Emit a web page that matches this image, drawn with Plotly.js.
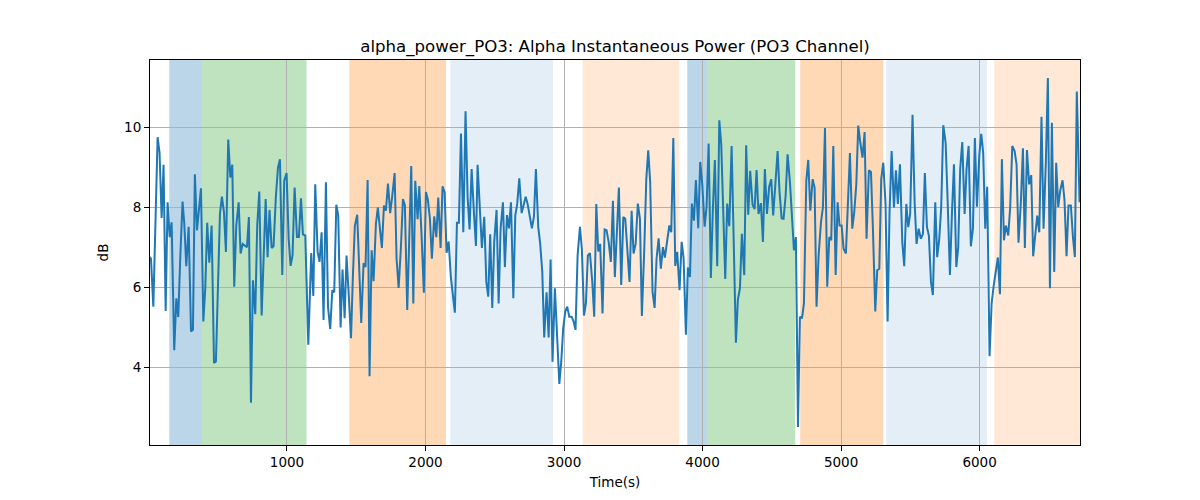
<!DOCTYPE html>
<html>
<head>
<meta charset="utf-8">
<script src="https://cdn.plot.ly/plotly-3.0.1.min.js"></script>
<style>
  body { margin: 0; background: #fff; }
</style>
</head>
<body>
<div id="myDiv"></div>
<script>
// time (s) and alpha power (dB)
let time_s = [
  11, 18, 35, 66, 80, 95, 109, 124, 138, 153, 167, 186, 201, 215, 230, 246, 258, 273, 290, 307,
  321, 335, 350, 364, 379, 396, 410, 424, 439, 456, 473, 487, 501, 516, 530, 545, 559, 576, 591, 605,
  619, 634, 651, 665, 680, 696, 711, 725, 740, 754, 771, 785, 800, 817, 831, 846, 860, 874, 889, 903,
  920, 935, 949, 966, 980, 997, 1012, 1026, 1040, 1055, 1072, 1086, 1101, 1115, 1132, 1154,
  1175, 1190, 1204, 1221, 1235, 1250, 1264, 1281, 1296, 1312, 1327, 1341, 1356, 1370, 1387, 1401, 1416, 1430, 1447, 1462,
  1476, 1490, 1507, 1522, 1536, 1553, 1567, 1582, 1596, 1611, 1625, 1642, 1656, 1671, 1685, 1700, 1714, 1729, 1745, 1760,
  1777, 1791, 1806, 1822, 1837, 1851, 1868, 1883, 1897, 1912, 1926, 1943, 1955, 1972, 1988, 2003, 2017, 2032, 2046, 2063,
  2078, 2092, 2109, 2123, 2138, 2152, 2167, 2183, 2198, 2212, 2227, 2241, 2256,
  2273, 2289, 2304, 2318, 2333, 2350, 2364, 2376, 2393, 2407, 2424, 2439, 2453, 2467, 2482, 2496, 2513, 2528, 2542, 2559,
  2573, 2588, 2602, 2617, 2634, 2648, 2662, 2677, 2694, 2708, 2723, 2737, 2754, 2768, 2783, 2797, 2814, 2828, 2843, 2857,
  2874, 2889, 2903, 2917, 2934, 2949, 2966, 2980, 2994, 3009, 3023, 3038, 3055, 3069, 3083, 3098, 3115, 3129, 3144, 3158,
  3172, 3187, 3204, 3218, 3233, 3247, 3261, 3278, 3293, 3307, 3322, 3338, 3353, 3367, 3382, 3396,
  3413, 3428, 3442, 3459, 3473, 3488, 3502, 3517, 3533, 3548, 3562, 3579, 3594, 3608, 3622, 3639, 3654, 3668, 3683, 3699,
  3714, 3728, 3743, 3760, 3774, 3789, 3803, 3817, 3834, 3849, 3863, 3880, 3894, 3909, 3923, 3938, 3952, 3969, 3983, 3998,
  4015, 4029, 4044, 4060, 4075, 4089, 4106, 4121, 4135, 4149, 4164, 4178, 4193, 4210, 4224, 4241, 4255, 4270, 4284, 4301,
  4315, 4330, 4344, 4361, 4376, 4390, 4404, 4421, 4436, 4450, 4465, 4481, 4496, 4510,
  4542, 4556, 4571, 4585, 4600, 4614, 4631, 4645, 4660, 4674, 4689, 4703, 4718, 4732, 4749, 4763, 4778, 4795, 4809, 4823,
  4838, 4855, 4869, 4884, 4900, 4915, 4929, 4944, 4961, 4975, 4989, 5004, 5018, 5035, 5050, 5064, 5081, 5095, 5110, 5124,
  5139, 5155, 5170, 5184, 5201, 5216, 5230, 5247, 5261, 5276, 5290, 5305, 5321, 5336, 5350, 5365, 5382, 5396, 5410, 5425,
  5442, 5456, 5471, 5485, 5499, 5516, 5531, 5545, 5560, 5576, 5591, 5605, 5620,
  5634, 5649, 5663, 5680, 5694, 5709, 5723, 5738, 5755, 5769, 5786, 5800, 5815, 5832, 5846, 5860, 5875, 5892, 5906, 5921,
  5937, 5952, 5966, 5981, 5998, 6012, 6026, 6041, 6055, 6072, 6087, 6101, 6118, 6132, 6147, 6161, 6176, 6190, 6207, 6221,
  6236, 6253, 6267, 6281, 6298, 6313, 6327, 6342, 6358, 6373, 6387, 6402, 6416, 6431, 6447, 6462, 6479, 6493, 6508, 6522,
  6539, 6553, 6568, 6582, 6599, 6613, 6628, 6642, 6659, 6674, 6688, 6702, 6722
];
let alpha_db = [
  6.75, 6.71, 5.51, 9.75, 9.36, 7.73, 9.06, 5.40, 8.12, 7.25, 7.62, 4.42, 5.72, 5.25, 6.79, 8.14, 7.62, 6.52, 7.51, 4.89,
  4.93, 8.82, 7.42, 8.04, 8.47, 5.14, 5.97, 7.61, 6.61, 7.54, 4.10, 4.14, 5.97, 7.83, 8.26, 7.87, 6.88, 9.69, 8.74, 9.06,
  6.01, 7.54, 8.12, 6.84, 7.08, 7.03, 7.00, 7.75, 3.11, 6.17, 5.32, 7.54, 8.39, 5.29, 6.96, 8.20, 6.75, 7.93, 6.98, 7.02,
  8.28, 8.99, 9.20, 6.30, 8.66, 8.85, 7.21, 6.53, 6.79, 8.49, 7.25, 7.25, 8.22, 7.32, 7.29, 4.56,
  6.85, 5.78, 8.57, 6.88, 6.63, 7.37, 5.18, 8.62, 5.51, 4.95, 5.92, 5.87, 8.06, 7.79, 4.99, 6.44, 5.22, 6.79, 5.72, 4.72,
  6.30, 7.54, 7.81, 6.38, 5.10, 6.60, 6.50, 8.68, 3.77, 6.92, 6.15, 7.58, 7.99, 7.46, 6.98, 8.04, 7.91, 8.59, 7.85, 8.28,
  8.85, 6.71, 5.98, 6.96, 8.20, 8.05, 5.43, 7.25, 9.03, 5.59, 8.66, 7.70, 8.53, 7.25, 5.86, 8.38, 8.19, 7.70, 6.71, 7.77,
  7.25, 8.24, 6.98, 8.52, 8.37, 6.86, 7.14, 6.25, 5.80, 5.36, 7.61, 7.61, 9.84,
  7.37, 10.40, 8.24, 7.44, 8.95, 7.83, 7.03, 9.06, 7.79, 6.98, 7.76, 6.13, 5.76, 7.32, 5.48, 7.13, 7.93, 5.59, 7.46, 8.12,
  6.50, 7.80, 7.47, 8.12, 5.72, 7.79, 8.08, 8.72, 7.85, 8.02, 8.26, 8.08, 7.73, 7.47, 7.77, 8.95, 7.50, 7.08, 6.38, 4.74,
  5.87, 4.74, 6.69, 4.13, 5.97, 4.72, 3.58, 4.14, 4.97, 5.39, 5.51, 5.26, 5.26, 5.14, 4.93, 6.79, 7.51, 6.94, 5.29, 5.59,
  6.79, 6.85, 6.13, 5.26, 8.08, 6.89, 7.08, 5.34, 7.44, 7.42, 7.13, 6.63, 8.16, 6.25, 7.29, 8.49,
  6.05, 7.75, 7.71, 6.88, 6.13, 7.91, 6.84, 7.08, 8.09, 7.71, 5.28, 6.92, 8.70, 9.42, 8.62, 5.88, 5.48, 6.71, 7.22, 6.46,
  7.00, 6.74, 7.08, 7.54, 7.37, 9.73, 6.53, 6.88, 5.92, 7.13, 6.73, 4.81, 6.49, 6.25, 8.09, 7.66, 8.68, 7.47, 9.13, 8.57,
  7.51, 8.00, 9.59, 6.23, 8.00, 9.18, 6.52, 10.17, 9.57, 7.95, 6.20, 8.09, 7.52, 9.53, 7.13, 4.61, 5.68, 5.97, 7.33, 6.30,
  9.55, 7.81, 8.91, 8.06, 7.95, 8.93, 7.83, 8.10, 7.13, 8.95, 7.83, 8.51, 8.70, 7.79,
  9.40, 8.37, 7.72, 7.71, 8.29, 9.32, 8.62, 7.87, 6.92, 7.25, 2.50, 5.26, 5.22, 5.59, 8.66, 9.18, 7.91, 8.70, 8.49, 5.51,
  6.79, 7.62, 7.99, 9.98, 6.01, 7.25, 7.17, 9.53, 6.30, 8.12, 7.54, 7.54, 6.96, 6.84, 8.04, 9.35, 7.46, 7.87, 8.57, 10.04,
  9.61, 9.24, 9.88, 7.21, 8.92, 8.88, 7.46, 5.39, 6.42, 6.46, 8.70, 9.11, 8.08, 5.14, 7.87, 9.40, 7.99, 8.92, 8.08, 9.07,
  7.13, 6.52, 8.08, 7.50, 7.83, 10.31, 8.12, 7.08, 7.46, 7.21, 7.33, 8.85, 7.50,
  7.29, 6.13, 5.80, 8.12, 6.75, 7.21, 8.00, 10.05, 9.61, 8.20, 6.30, 7.79, 9.07, 6.50, 7.00, 8.95, 9.63, 7.83, 8.95, 9.53,
  7.02, 7.46, 9.73, 8.01, 9.30, 9.83, 9.36, 7.46, 8.51, 4.27, 5.59, 6.01, 6.38, 6.74, 5.82, 9.20, 7.17, 7.54, 7.29, 8.00,
  9.53, 9.40, 9.07, 7.11, 8.12, 9.47, 6.98, 9.43, 8.57, 8.80, 6.77, 7.29, 7.79, 7.37, 10.26, 7.46, 9.18, 11.23, 5.97, 10.11,
  6.38, 9.11, 8.00, 8.41, 8.67, 8.18, 6.77, 8.04, 8.04, 7.25, 6.75, 10.89, 8.12
];

// shaded intervals
let span_start = [150, 386, 1450, 2179, 3134, 3890, 4032, 4705, 5326, 6106];
let span_end   = [386, 1141, 2148, 2920, 3832, 4032, 4669, 5305, 6053, 6725];
let span_kind  = ['blue', 'green', 'orange', 'blue_light', 'orange_light',
                  'blue', 'green', 'orange', 'blue_light', 'orange_light'];

let span_colors = {
    blue: 'rgba(31,119,180,0.3)',
    green: 'rgba(44,160,44,0.3)',
    orange: 'rgba(255,127,14,0.3)',
    blue_light: 'rgba(31,119,180,0.12)',
    orange_light: 'rgba(255,127,14,0.17)'
};

let shapes = [];
for (let i = 0; i < span_start.length; i++) {
    shapes.push({
        type: 'rect', layer: 'below',
        xref: 'x', yref: 'paper',
        x0: span_start[i], x1: span_end[i], y0: 0, y1: 1,
        fillcolor: span_colors[span_kind[i]],
        line: {width: 0}
    });
}

var data = [{
    x: time_s,
    y: alpha_db,
    type: 'scatter',
    mode: 'lines',
    line: {color: '#1f77b4', width: 2},
    hoverinfo: 'skip'
}];

var font = {family: 'DejaVu Sans, sans-serif', size: 13.5, color: '#000'};

var layout = {
    width: 1200,
    height: 500,
    paper_bgcolor: '#fff',
    plot_bgcolor: '#fff',
    font: font,
    showlegend: false,
    margin: {l: 150, r: 120, t: 60, b: 55},
    title: {
        text: 'alpha_power_PO3: Alpha Instantaneous Power (PO3 Channel)',
        font: {family: 'DejaVu Sans, sans-serif', size: 16.6, color: '#000'},
        x: 0.5125, xanchor: 'center',
        yref: 'container', y: 0.908, yanchor: 'middle'
    },
    xaxis: {
        range: [11, 6725],
        tickvals: [1000, 2000, 3000, 4000, 5000, 6000],
        ticks: 'outside', ticklen: 5, tickcolor: '#000',
        showgrid: true, gridcolor: '#b0b0b0', gridwidth: 1,
        showline: true, linecolor: '#000', linewidth: 1, mirror: true,
        zeroline: false,
        title: {text: 'Time(s)', font: font, standoff: 8}
    },
    yaxis: {
        range: [2.05, 11.68],
        tickvals: [4, 6, 8, 10],
        ticks: 'outside', ticklen: 5, tickcolor: '#000',
        showgrid: true, gridcolor: '#b0b0b0', gridwidth: 1,
        showline: true, linecolor: '#000', linewidth: 1, mirror: true,
        zeroline: false,
        title: {text: 'dB', font: font, standoff: 12}
    },
    shapes: shapes
};

Plotly.newPlot('myDiv', data, layout, {displayModeBar: false});
</script>
</body>
</html>
